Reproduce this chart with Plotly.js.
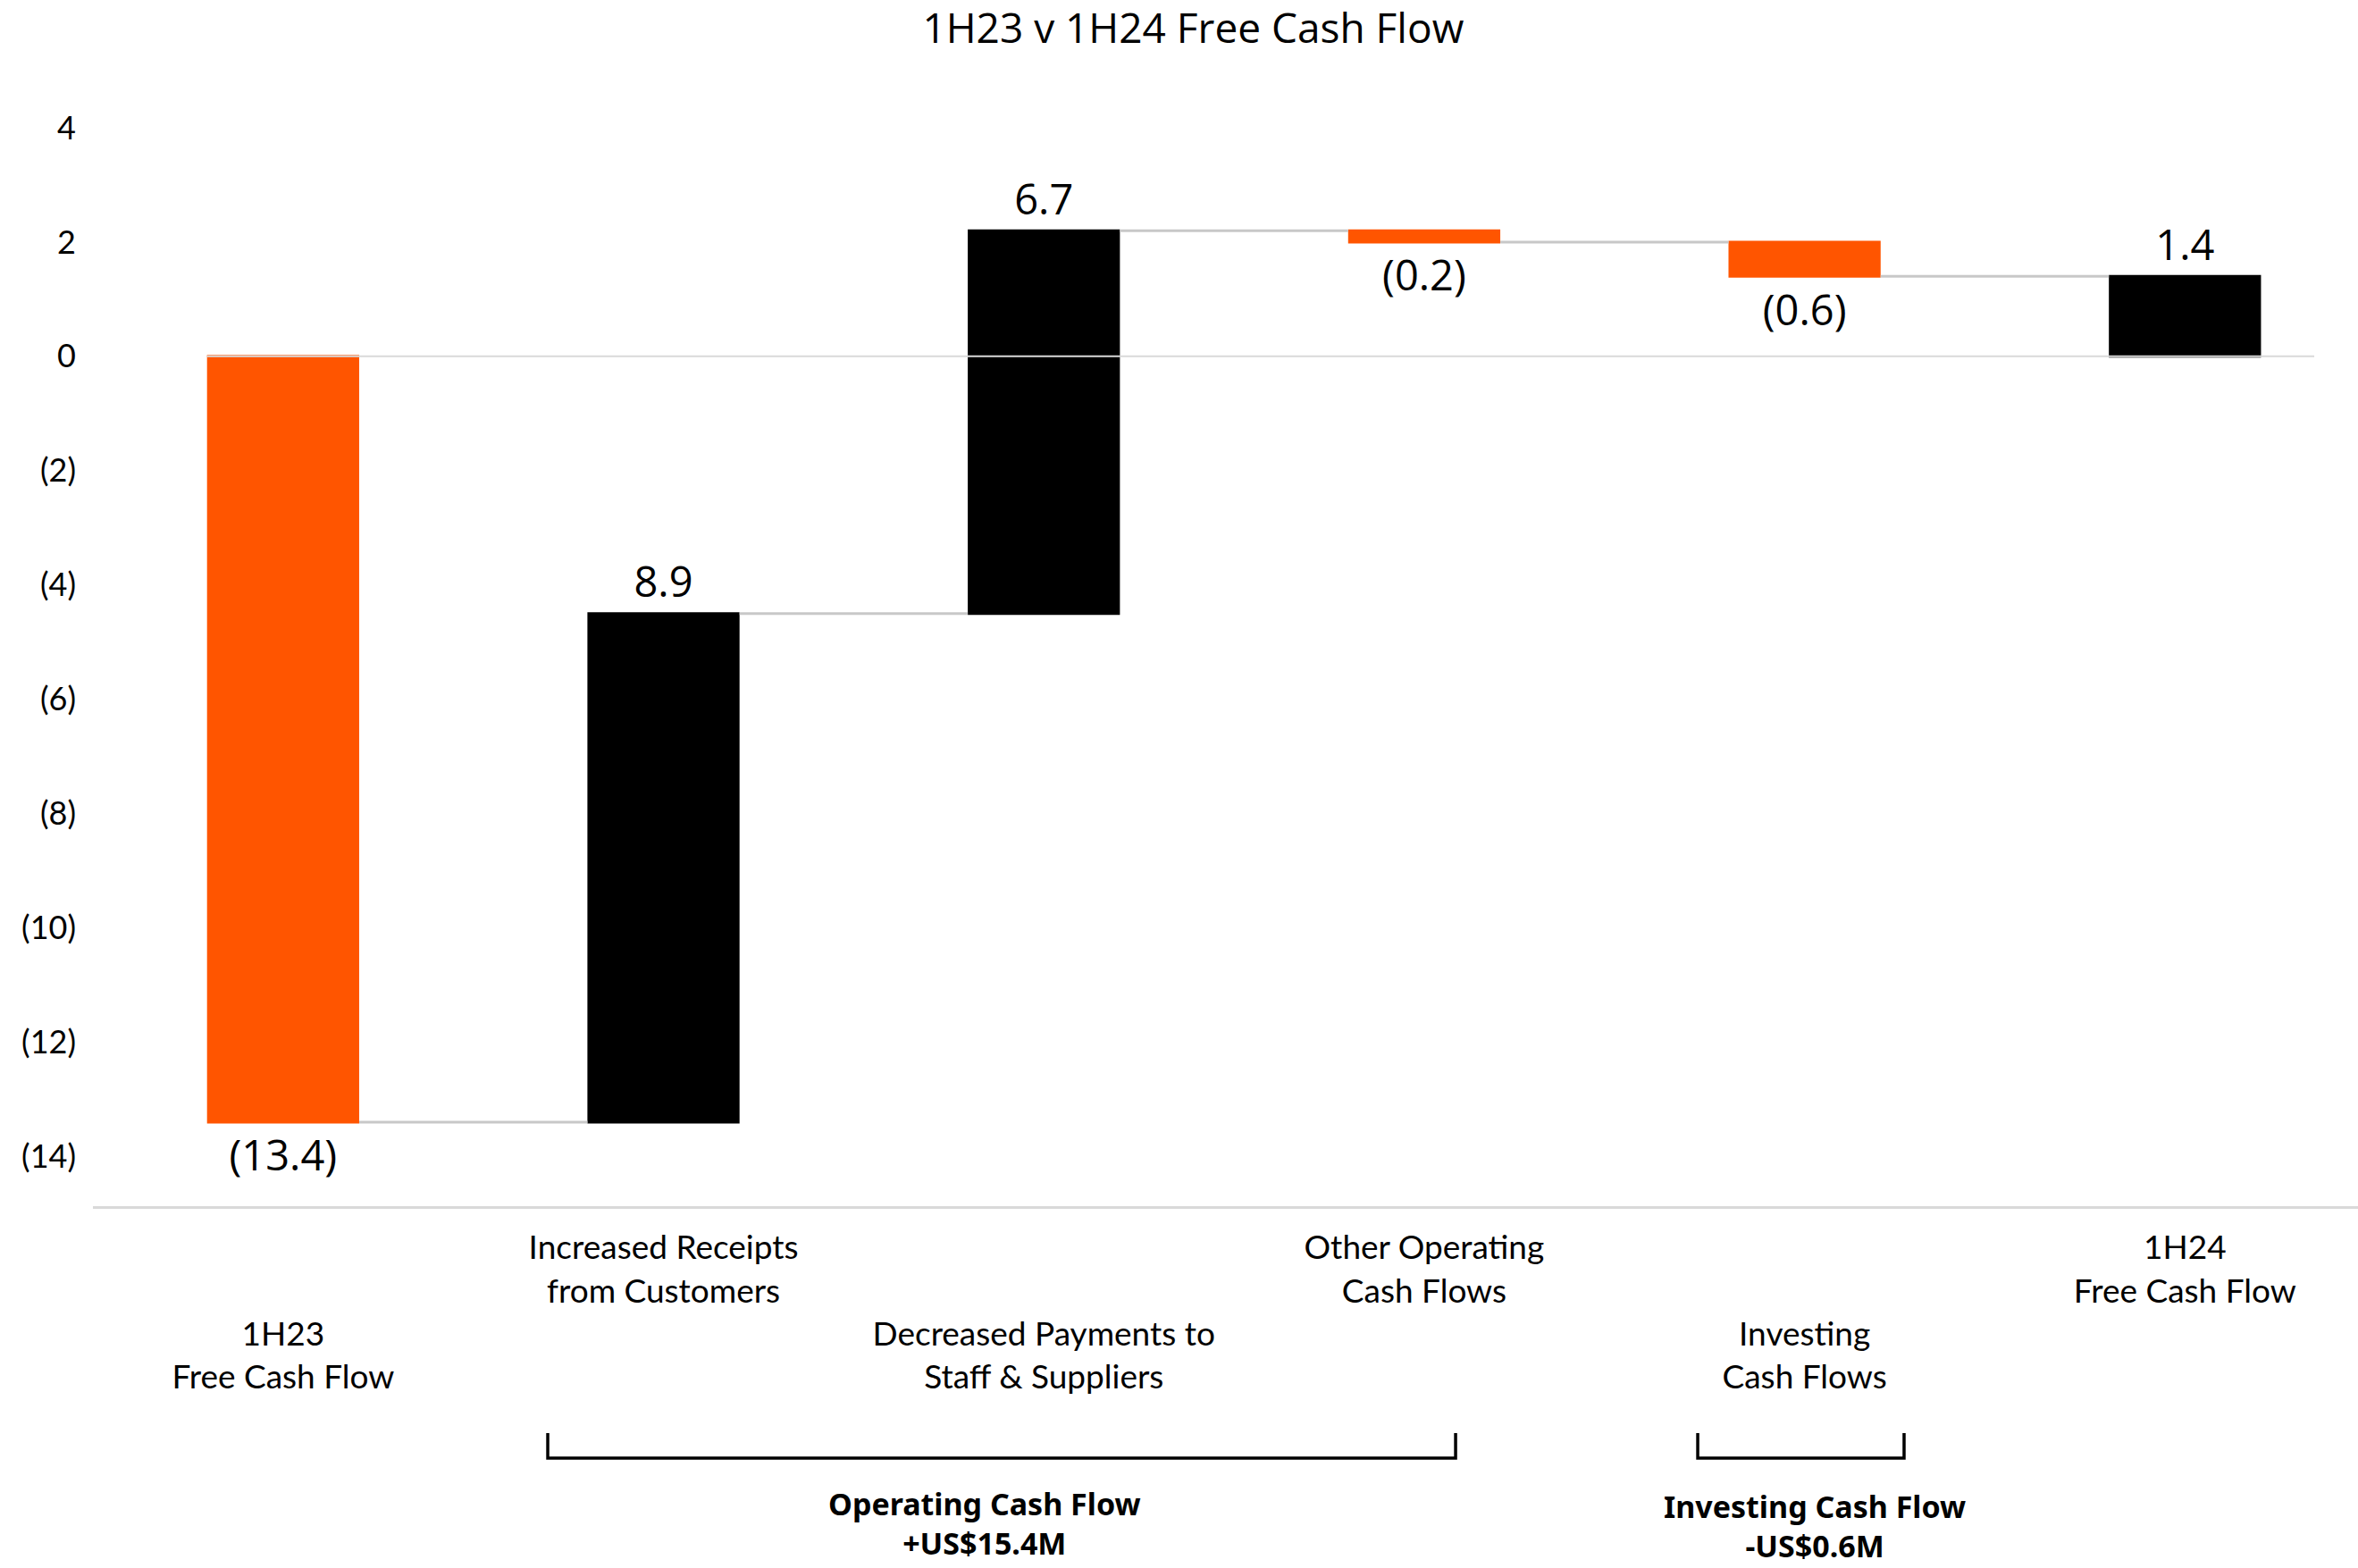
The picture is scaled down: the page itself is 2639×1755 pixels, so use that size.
<!DOCTYPE html>
<html>
<head>
<meta charset="utf-8">
<script src="https://cdn.plot.ly/plotly-3.0.1.min.js"></script>
<style>html,body{margin:0;padding:0;background:#fff;}#chart{width:2639px;height:1755px;}</style>
</head>
<body>
<div id="chart"></div>
<script>
// ---- data ----
const categories = [
  "1H23<br>Free Cash Flow",
  "Increased Receipts<br>from Customers",
  "Decreased Payments to<br>Staff &amp; Suppliers",
  "Other Operating<br>Cash Flows",
  "Investing<br>Cash Flows",
  "1H24<br>Free Cash Flow"
];
const values = [-13.4, 8.9, 6.7, -0.2, -0.6, 1.4];
const measures = ["relative", "relative", "relative", "relative", "relative", "total"];
const yTickVals = [-14, -12, -10, -8, -6, -4, -2, 0, 2, 4];
const yTickText = ["(14)", "(12)", "(10)", "(8)", "(6)", "(4)", "(2)", "0", "2", "4"];
const groupTitles = ["Operating Cash Flow", "Investing Cash Flow"];
const groupTotals = ["+US$15.4M", "-US$0.6M"];

// ---- helpers ----
function fmt(v) {
  return v < 0 ? "(" + Math.abs(v).toFixed(1) + ")" : v.toFixed(1);
}
const labels = values.map(fmt);
const tickText = categories.map((c, i) => (i % 2 === 0 ? "\u00a0<br>\u00a0<br>" + c : c));

const ORANGE = "#FF5500";
const BLACK = "#000000";

const trace = {
  type: "waterfall",
  x: categories,
  y: values,
  measure: measures,
  text: labels,
  textinfo: "text",
  texttemplate: "%{text}",
  textposition: "outside",
  cliponaxis: false,
  textfont: { family: "Open Sans", size: 47, color: "#000" },
  increasing: { marker: { color: BLACK } },
  decreasing: { marker: { color: ORANGE } },
  totals: { marker: { color: BLACK } },
  connector: { mode: "between", line: { color: "#c8c8c8", width: 3 } },
  hoverinfo: "skip"
};

// bracket positions (paper coords) and label positions
const brackets = [[0.2008, 0.6016], [0.7085, 0.7996]];
const groupX = [0.3937, 0.760];
const groupY = [-0.2941, -0.2966];

const shapes = [
  { type: "line", xref: "x", yref: "y", x0: -0.2, x1: 5.34, y0: 0, y1: 0,
    line: { color: "#d9d9d9", width: 2 }, layer: "above" }
];
brackets.forEach(b => {
  shapes.push({ type: "path", xref: "paper", yref: "paper",
    path: `M ${b[0]},-0.2104 L ${b[0]},-0.2336 L ${b[1]},-0.2336 L ${b[1]},-0.2104`,
    line: { color: "#000", width: 3.5 } });
});

const annotations = groupTitles.map((t, i) => ({
  xref: "paper", yref: "paper", x: groupX[i], y: groupY[i],
  text: "<b>" + t + "</b><br><b>" + groupTotals[i] + "</b>",
  showarrow: false, xanchor: "center", yanchor: "middle",
  font: { family: "Noto Sans", size: 34, color: "#000" }
}));

const layout = {
  width: 2639,
  height: 1755,
  margin: { l: 104, r: 0, t: 143, b: 405 },
  paper_bgcolor: "#ffffff",
  plot_bgcolor: "#ffffff",
  showlegend: false,
  waterfallgap: 0.6,
  title: {
    text: "1H23 v 1H24 Free Cash Flow",
    font: { family: "Open Sans", size: 46, color: "#000" },
    x: 0.506, xanchor: "center",
    y: 0.982, yanchor: "middle"
  },
  xaxis: {
    type: "category",
    range: [-0.5, 5.455],
    tickvals: categories,
    ticktext: tickText,
    tickfont: { family: "Lato", size: 37, color: "#000" },
    ticks: "",
    ticklabelstandoff: 12,
    showgrid: false,
    zeroline: false,
    showline: true,
    linecolor: "#d9d9d9",
    linewidth: 3,
    fixedrange: true
  },
  yaxis: {
    range: [-14.87, 4],
    tickvals: yTickVals,
    ticktext: yTickText,
    tickfont: { family: "Lato", size: 36, color: "#000" },
    ticks: "",
    ticklabelstandoff: 18,
    showgrid: false,
    zeroline: false,
    showline: false,
    fixedrange: true
  },
  shapes: shapes,
  annotations: annotations
};

Plotly.newPlot("chart", [trace], layout, { staticPlot: true, displayModeBar: false });
</script>
</body>
</html>
